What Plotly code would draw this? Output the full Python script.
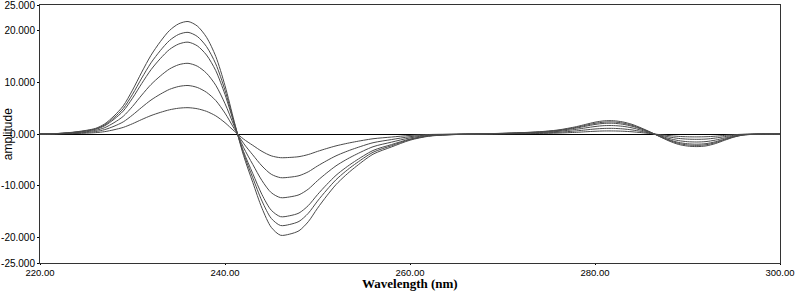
import plotly.graph_objects as go

wavelength = [220, 222, 224, 226, 227, 228, 229, 230, 231, 232, 233, 234, 235, 236, 237, 238, 239, 240,
              241, 242, 243, 244, 245, 246, 247, 248, 249, 250, 251, 252, 253, 254, 256, 258, 260, 262,
              264, 266, 268, 270, 272, 274, 276, 278, 279, 280, 281, 282, 283, 284, 285, 286, 287, 288,
              289, 290, 291, 292, 293, 294, 295, 296, 297, 298, 300]

series_1 = [0, 0.11, 0.44, 1.09, 1.96, 3.49, 5.45, 8.50, 11.99, 15.26, 17.88, 20.06, 21.36, 21.80, 20.93,
            18.75, 15.04, 9.37, 2.40, -4.14, -9.37, -14.39, -18.09, -19.62, -19.40, -18.75, -17.00,
            -14.39, -11.99, -9.81, -8.07, -6.54, -3.92, -2.51, -1.20, -0.44, -0.17, -0.04,
            0.05, 0.13, 0.26, 0.44, 0.78, 1.43, 1.87, 2.29, 2.55, 2.57, 2.34, 1.87, 1.17, 0.36, -0.52,
            -1.35, -2.00, -2.34, -2.44, -2.31, -1.87, -1.22, -0.62, -0.21, -0.08, 0, 0]
series_2 = [0, 0.10, 0.39, 0.99, 1.77, 3.15, 4.93, 7.68, 10.84, 13.79, 16.15, 18.12, 19.31, 19.70, 18.91,
            16.94, 13.59, 8.47, 2.17, -3.74, -8.47, -13.00, -16.35, -17.73, -17.53, -16.94, -15.37,
            -13.00, -10.84, -8.87, -7.29, -5.91, -3.55, -2.27, -1.08, -0.39, -0.16, -0.04,
            0.05, 0.12, 0.24, 0.40, 0.71, 1.29, 1.69, 2.07, 2.30, 2.33, 2.12, 1.69, 1.06, 0.33, -0.47,
            -1.22, -1.81, -2.12, -2.21, -2.09, -1.69, -1.10, -0.56, -0.19, -0.07, 0, 0]
series_3 = [0, 0.09, 0.36, 0.89, 1.60, 2.85, 4.45, 6.94, 9.79, 12.46, 14.60, 16.38, 17.44, 17.80, 17.09,
            15.31, 12.28, 7.65, 1.96, -3.38, -7.65, -11.75, -14.77, -16.02, -15.84, -15.31, -13.88,
            -11.75, -9.79, -8.01, -6.59, -5.34, -3.20, -2.05, -0.98, -0.36, -0.14, -0.04,
            0.04, 0.11, 0.21, 0.36, 0.63, 1.16, 1.51, 1.85, 2.06, 2.08, 1.89, 1.51, 0.95, 0.29, -0.42,
            -1.09, -1.62, -1.89, -1.97, -1.87, -1.51, -0.99, -0.50, -0.17, -0.06, 0, 0]
series_4 = [0, 0.07, 0.27, 0.69, 1.23, 2.19, 3.43, 5.34, 7.54, 9.59, 11.23, 12.60, 13.43, 13.70, 13.15,
            11.78, 9.45, 5.89, 1.51, -2.60, -5.89, -9.04, -11.37, -12.33, -12.19, -11.78, -10.69,
            -9.04, -7.54, -6.17, -5.07, -4.11, -2.47, -1.58, -0.75, -0.27, -0.11, -0.03,
            0.03, 0.08, 0.17, 0.28, 0.50, 0.91, 1.19, 1.45, 1.62, 1.63, 1.49, 1.19, 0.74, 0.23, -0.33,
            -0.86, -1.27, -1.49, -1.55, -1.47, -1.19, -0.78, -0.40, -0.13, -0.05, 0, 0]
series_5 = [0, 0.05, 0.19, 0.47, 0.85, 1.50, 2.35, 3.67, 5.17, 6.58, 7.71, 8.65, 9.21, 9.40, 9.02,
            8.08, 6.49, 4.04, 1.03, -1.79, -4.04, -6.20, -7.80, -8.46, -8.37, -8.08, -7.33,
            -6.20, -5.17, -4.23, -3.48, -2.82, -1.69, -1.08, -0.52, -0.19, -0.08, -0.02,
            0.02, 0.06, 0.11, 0.19, 0.33, 0.61, 0.79, 0.97, 1.08, 1.09, 0.99, 0.79, 0.50, 0.15, -0.22,
            -0.57, -0.85, -0.99, -1.03, -0.98, -0.79, -0.52, -0.26, -0.09, -0.03, 0, 0]
series_6 = [0, 0.03, 0.10, 0.26, 0.46, 0.82, 1.28, 1.99, 2.81, 3.57, 4.18, 4.69, 5.00, 5.10, 4.90,
            4.39, 3.52, 2.19, 0.56, -0.97, -2.19, -3.37, -4.23, -4.59, -4.54, -4.39, -3.98,
            -3.37, -2.81, -2.30, -1.89, -1.53, -0.92, -0.59, -0.28, -0.10, -0.04, -0.01,
            0.01, 0.03, 0.06, 0.10, 0.18, 0.33, 0.43, 0.53, 0.59, 0.59, 0.54, 0.43, 0.27, 0.08, -0.12,
            -0.31, -0.46, -0.54, -0.56, -0.53, -0.43, -0.28, -0.14, -0.05, -0.02, 0, 0]

x_ticks = [220, 240, 260, 280, 300]
x_tick_labels = ["220.00", "240.00", "260.00", "280.00", "300.00"]
y_ticks = [-25, -20, -10, 0, 10, 20, 25]
y_tick_labels = ["-25.000", "-20.000", "-10.000", "0.000", "10.000", "20.000", "25.000"]

fig = go.Figure()
for s in [series_1, series_2, series_3, series_4, series_5, series_6]:
    fig.add_trace(go.Scatter(x=wavelength, y=s, mode="lines",
                             line=dict(color="#4a4a4a", width=1, shape="spline", smoothing=0.8),
                             showlegend=False, hoverinfo="skip"))

tick_font = dict(family="Liberation Sans, Arial", size=10, color="black")

fig.update_layout(
    width=798, height=292,
    margin=dict(l=40, r=18, t=5, b=29, autoexpand=False),
    paper_bgcolor="white", plot_bgcolor="white",
    xaxis=dict(range=[220, 300], tickvals=x_ticks, ticktext=x_tick_labels, ticks="outside",
               ticklen=1, tickcolor="black", showgrid=False, zeroline=False, automargin=False,
               ticklabeloverflow="allow", ticklabelstandoff=0,
               showline=True, mirror=True, linecolor="#333333", linewidth=1,
               tickfont=dict(family="Liberation Sans, Arial", size=9.5, color="black")),
    yaxis=dict(range=[-25, 25], tickvals=y_ticks, ticktext=y_tick_labels, ticks="outside",
               ticklen=2, tickcolor="black", showgrid=False, zeroline=True, zerolinecolor="black",
               zerolinewidth=1, showline=True, mirror=True, linecolor="#333333", linewidth=1,
               automargin=False, ticklabeloverflow="allow", ticklabelstandoff=0,
               tickfont=tick_font),
    annotations=[
        dict(text="amplitude", xref="paper", yref="paper", x=-0.043, y=0.5, textangle=-90,
             showarrow=False, xanchor="center", yanchor="middle",
             font=dict(family="Liberation Sans, Arial", size=12, color="black")),
        dict(text="<b>Wavelength (nm)</b>", xref="paper", yref="paper", x=0.5, y=-0.113,
             showarrow=False, xanchor="center", yanchor="bottom", borderpad=0,
             font=dict(family="Liberation Serif, Times New Roman", size=13, color="black")),
    ],
)

fig.write_html("out.html", config={"displayModeBar": False},
               post_script="document.body.style.margin='0';")
